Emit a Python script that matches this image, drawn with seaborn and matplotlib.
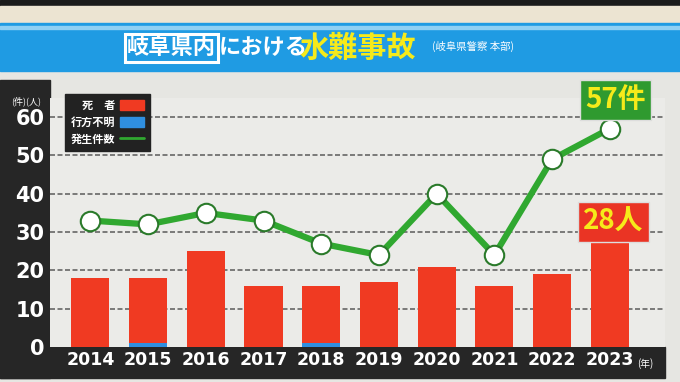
import matplotlib
matplotlib.use("Agg")
import matplotlib.pyplot as plt
import matplotlib.patches as mpatches
from matplotlib.lines import Line2D
import seaborn as sns

# データ
years = ["2014", "2015", "2016", "2017", "2018", "2019", "2020", "2021", "2022", "2023"]
deaths = [18, 17, 25, 16, 15, 17, 21, 16, 19, 28]
missing = [0, 1, 0, 0, 1, 0, 0, 0, 0, 0]
cases = [33, 32, 35, 33, 27, 24, 40, 24, 49, 57]
yticks = [0, 10, 20, 30, 40, 50, 60]

RED = "#f03a22"
BLUE = "#2f8fe0"
GREEN = "#30a830"

sns.set_theme(style="white")
plt.rcParams["font.family"] = ["Noto Sans CJK JP", "DejaVu Sans"]

fig = plt.figure(figsize=(6.8, 3.82), dpi=100)
fig.patch.set_facecolor("#e6e6e2")


def banda(x, y, w, h, cor):
    # 軸の後ろに描く背景の帯
    fig.patches.append(mpatches.Rectangle((x, y), w, h, transform=fig.transFigure,
                                          color=cor, zorder=-5))


banda(0, 0.985, 1, 0.015, "#1a1a1a")
banda(0, 0.94, 1, 0.045, "#ece4d2")
banda(0, 0.815, 1, 0.125, "#1f9be3")
banda(0, 0.925, 1, 0.008, "#8fd0f4")
banda(0, 0.0105, 0.0735, 0.78, "#262626")
banda(0, 0.0105, 0.978, 0.081, "#262626")

# タイトル
ty = 1 - 48 / 382
fig.text(0.187, ty, "岐阜県内", ha="left", va="center", fontsize=16, weight="bold", color="white",
         bbox=dict(boxstyle="square,pad=0.1", fc="#1f9be3", ec="white", lw=2.2))
fig.text(0.321, ty, "における", ha="left", va="center", fontsize=16, weight="bold", color="white")
fig.text(0.44, ty, "水難事故", ha="left", va="center", fontsize=21, weight="bold", color="#f6ea1a")
fig.text(0.636, ty + 0.005, "(岐阜県警察 本部)", ha="left", va="center", fontsize=7.5, color="white")

ax = fig.add_axes([0.0735, 0.0916, 0.904, 0.652])
ax.set_facecolor("#ebebe8")

totals = [d + m for d, m in zip(deaths, missing)]
sns.barplot(x=years, y=totals, color=RED, width=0.66, saturation=1, linewidth=0, ax=ax, zorder=2)
sns.barplot(x=years, y=missing, color=BLUE, width=0.66, saturation=1, linewidth=0, ax=ax, zorder=3)
ax.plot(range(len(years)), cases, color=GREEN, lw=4.5, marker="o", markersize=14,
        markerfacecolor="white", markeredgecolor="#2a7a2a", markeredgewidth=1.5, zorder=4)

for v in yticks[1:]:
    ax.axhline(v, color="#666666", lw=1.2, ls=(0, (3, 1.5)), zorder=1)

ax.set_xlim(-0.7, 9.95)
ax.set_ylim(0, 65)
ax.set_yticks(yticks)
ax.set_yticklabels([str(v) for v in yticks], fontsize=15, color="white",
                   family="DejaVu Sans", weight="bold")
ax.set_xticks(range(len(years)))
ax.set_xticklabels(years, fontsize=12.5, color="white", family="DejaVu Sans", weight="bold")
ax.tick_params(axis="both", length=0)
ax.tick_params(axis="y", pad=4)
ax.tick_params(axis="x", pad=3)
ax.set_xlabel("")
ax.set_ylabel("")
for s in ax.spines.values():
    s.set_visible(False)

fig.text(0.038, 1 - 101 / 382, "(件)(人)", ha="center", va="center", fontsize=6.5, color="white")
fig.text(0.937, 1 - 364 / 382, "(年)", ha="left", va="center", fontsize=7, color="white")

handles = [
    mpatches.Patch(color=RED, label="死　者"),
    mpatches.Patch(color=BLUE, label="行方不明"),
    Line2D([0], [0], color=GREEN, lw=2, label="発生件数"),
]
leg = ax.legend(handles=handles, loc="upper left", bbox_to_anchor=(0.088, 1 - 88 / 382),
                bbox_transform=fig.transFigure, markerfirst=False,
                prop={"size": 8, "weight": "bold"},
                facecolor="#222222", edgecolor="#222222", labelcolor="white", framealpha=1,
                fancybox=False, handlelength=2.2, handleheight=1.0, labelspacing=0.35,
                borderpad=0.5, handletextpad=0.4)
leg.set_zorder(10)

fig.text(0.905, 1 - 100 / 382, "57件", ha="center", va="center", fontsize=20, weight="bold",
         color="#f6ea1a", bbox=dict(boxstyle="square,pad=0.2", fc="#2f9a2f", ec="#dddddd", lw=1))
fig.text(0.902, 1 - 222 / 382, "28人", ha="center", va="center", fontsize=20, weight="bold",
         color="#f6ea1a", bbox=dict(boxstyle="square,pad=0.2", fc="#ea3424", ec="#dddddd", lw=1))

fig.savefig("out.png", dpi=100, facecolor=fig.get_facecolor())
